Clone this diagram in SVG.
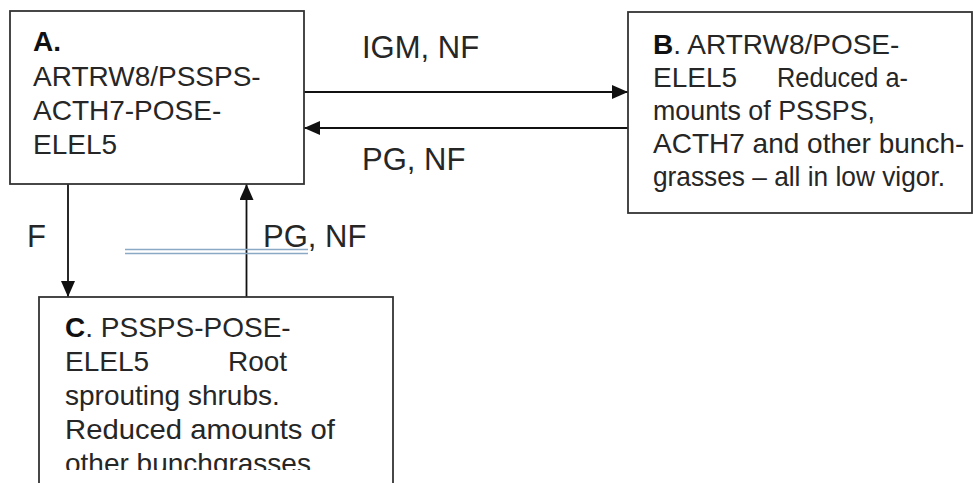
<svg xmlns="http://www.w3.org/2000/svg" width="973" height="483" viewBox="0 0 973 483">
<defs>
<style>
.box{fill:#fff;stroke:#333;stroke-width:1.8}
.t{font-family:"Liberation Sans",Arial,sans-serif;font-size:28px;fill:#262626}
.lbl{font-family:"Liberation Sans",Arial,sans-serif;font-size:31px;fill:#262626}
.b{font-weight:bold;fill:#111}
.c{stroke:#111;stroke-width:1.8;fill:none}
.dbl{stroke:#8aa9c4;stroke-width:1.6}
</style>
<marker id="ah" viewBox="0 0 16 14" refX="16" refY="7" markerWidth="16" markerHeight="14" markerUnits="userSpaceOnUse" orient="auto">
<path d="M0,0 L16,7 L0,14 z" fill="#111"/>
</marker>
<clipPath id="clipC"><rect x="39" y="297" width="356" height="173"/></clipPath>
</defs>
<rect width="973" height="483" fill="#fff"/>
<g id="connectors">
<line class="c" x1="304" y1="92" x2="628" y2="92" marker-end="url(#ah)"/>
<line class="c" x1="628" y1="128" x2="304" y2="128" marker-end="url(#ah)"/>
<line class="c" x1="68" y1="184" x2="68" y2="297" marker-end="url(#ah)"/>
<line class="c" x1="246.5" y1="297" x2="246.5" y2="184" marker-end="url(#ah)"/>
<text class="lbl" x="362" y="58">IGM, NF</text>
<text class="lbl" x="362" y="170">PG, NF</text>
<text class="lbl" x="27" y="247">F</text>
<text class="lbl" x="263" y="247">PG, NF</text>
</g>
<g id="double-line">
<line class="dbl" x1="125" y1="249.5" x2="308" y2="249.5"/>
<line class="dbl" x1="125" y1="253.5" x2="308" y2="253.5"/>
</g>
<g id="nodeA">
<rect class="box" x="10" y="11" width="294" height="173"/>
<text class="t"><tspan class="b" x="33" y="51">A.</tspan><tspan x="33" y="86">ARTRW8/PSSPS-</tspan><tspan x="33" y="120">ACTH7-POSE-</tspan><tspan x="33" y="154">ELEL5</tspan></text>
</g>
<g id="nodeB">
<rect class="box" x="628" y="12" width="344" height="201"/>
<text class="t" x="653" y="54"><tspan class="b">B</tspan>. ARTRW8/POSE-</text>
<text class="t" x="653" y="87">ELEL5</text>
<text class="t" x="777" y="87" textLength="131" lengthAdjust="spacingAndGlyphs">Reduced a-</text>
<text class="t" x="653" y="120" textLength="222" lengthAdjust="spacingAndGlyphs">mounts of PSSPS,</text>
<text class="t" x="653" y="153">ACTH7 and other bunch-</text>
<text class="t" x="653" y="186" textLength="292" lengthAdjust="spacingAndGlyphs">grasses – all in low vigor.</text>
</g>
<g id="nodeC">
<rect class="box" x="39" y="297" width="354" height="190"/>
<g clip-path="url(#clipC)">
<text class="t" x="65" y="337"><tspan class="b">C</tspan>. PSSPS-POSE-</text>
<text class="t" x="65" y="371">ELEL5</text>
<text class="t" x="228" y="371">Root</text>
<text class="t" x="65" y="405">sprouting shrubs.</text>
<text class="t" x="65" y="439" textLength="270" lengthAdjust="spacingAndGlyphs">Reduced amounts of</text>
<text class="t" x="65" y="473">other bunchgrasses</text>
</g>
</g>
</svg>
